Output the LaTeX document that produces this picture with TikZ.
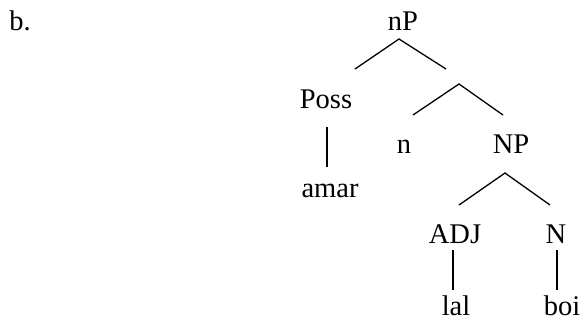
\documentclass[tikz,border=0pt]{standalone}
\usepackage{fontspec}
\setmainfont{Liberation Serif}
\begin{document}
\begin{tikzpicture}[x=1pt,y=-1pt,
  lab/.style={anchor=base,inner sep=0pt,font=\fontsize{28.5}{32}\selectfont},
  edge/.style={line width=1.3pt}]
\useasboundingbox (0,0) rectangle (584,327);
\node[lab] (b) at (20,30) {b.};
\node[lab] (nP) at (403,30) {nP};
\node[lab] (Poss) at (326,108) {Poss};
\node[lab] (n) at (404,153) {n};
\node[lab] (NP) at (511,153) {NP};
\node[lab] (amar) at (330,197) {amar};
\node[lab] (ADJ) at (455,243) {ADJ};
\node[lab] (N) at (556,243) {N};
\node[lab] (lal) at (456,315) {lal};
\node[lab] (boi) at (562,315) {boi};
% branch points and line ends
\coordinate (a1) at (399,39);
\coordinate (a1l) at (355,69);
\coordinate (a1r) at (446,69);
\coordinate (a2) at (459,84);
\coordinate (a2l) at (413,115);
\coordinate (a2r) at (503,115);
\coordinate (a3) at (505,173);
\coordinate (a3l) at (459,205);
\coordinate (a3r) at (550,205);
\coordinate (p1) at (327,127);
\coordinate (p2) at (327,167);
\coordinate (j1) at (453,250);
\coordinate (j2) at (453,290);
\coordinate (k1) at (557,250);
\coordinate (k2) at (557,290);
\draw[edge] (a1l) -- (a1) -- (a1r);
\draw[edge] (a2l) -- (a2) -- (a2r);
\draw[edge] (a3l) -- (a3) -- (a3r);
\draw[edge] (p1) -- (p2);
\draw[edge] (j1) -- (j2);
\draw[edge] (k1) -- (k2);
\end{tikzpicture}
\end{document}
